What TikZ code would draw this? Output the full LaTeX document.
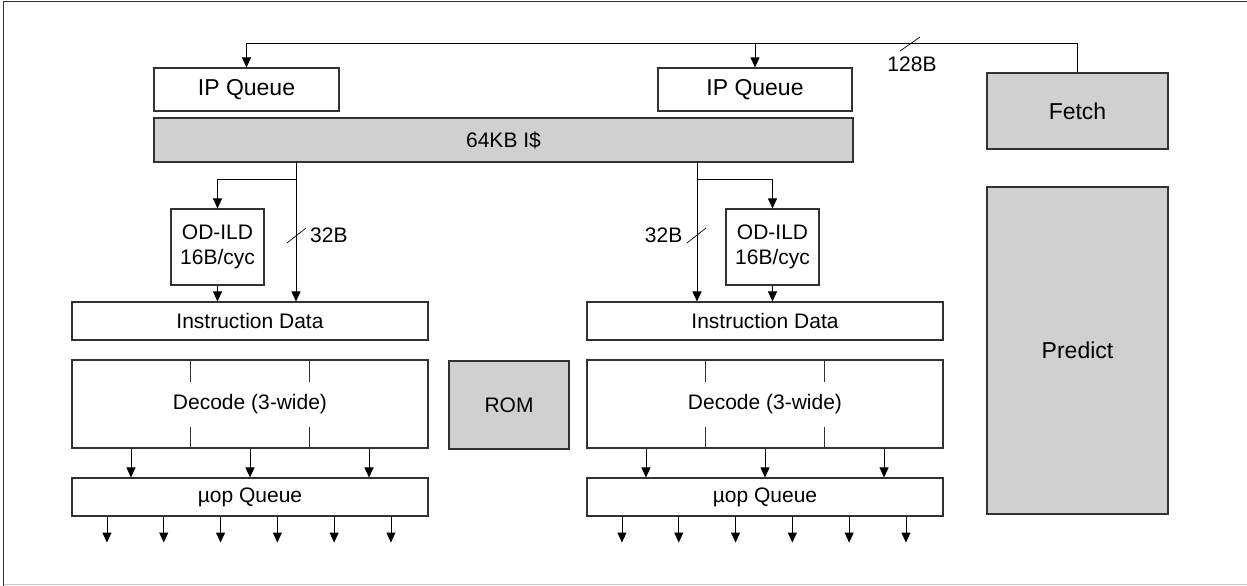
\documentclass[tikz,border=0pt]{standalone}
\usepackage{fontspec}
\setmainfont{Liberation Sans}
\usetikzlibrary{arrows.meta,calc}

\definecolor{blockgray}{RGB}{208,208,208}
\definecolor{edgegray}{RGB}{50,50,50}
\definecolor{framelight}{RGB}{200,200,200}

\tikzset{
  box/.style={draw=edgegray, line width=1.1pt, rectangle, inner sep=0pt,
              align=center, font=\fontsize{21}{25}\selectfont},
  whitebox/.style={box, fill=white},
  graybox/.style={box, fill=blockgray},
  bigtext/.style={font=\fontsize{23}{27}\selectfont},
  arr/.style={line width=0.9pt, -{Triangle[length=10pt,width=9pt]}},
  wire/.style={line width=0.9pt},
  tick/.style={line width=0.7pt},
  lbl/.style={font=\fontsize{21}{25}\selectfont, inner sep=0pt},
  divider/.style={line width=0.9pt, draw=edgegray},
}

\begin{document}
\begin{tikzpicture}[x=1pt, y=-1pt]
  \useasboundingbox (0,0) rectangle (1247,586);

  % frame
  \draw[line width=1.6pt, draw=edgegray] (3.5,586) -- (3.5,1.5) -- (1247,1.5);
  \draw[line width=1.2pt, draw=framelight] (3.5,584.5) -- (1247,584.5);

  % blocks
  \node[whitebox, bigtext, minimum width=185pt, minimum height=43pt] (ipq1) at (246.5,89.5) {IP Queue};
  \node[whitebox, bigtext, minimum width=194pt, minimum height=43pt] (ipq2) at (755,89.5) {IP Queue};
  \node[graybox, minimum width=699pt, minimum height=44pt] (icache) at (503.5,140) {64KB I\$};
  \node[graybox, bigtext, minimum width=181pt, minimum height=76pt] (fetch) at (1077.5,111) {Fetch};
  \node[graybox, bigtext, minimum width=181pt, minimum height=327pt] (predict) at (1077.5,350.5) {Predict};

  \node[whitebox, minimum width=93pt, minimum height=76pt] (ild1) at (217.5,247) {OD-ILD\\16B/cyc};
  \node[whitebox, minimum width=93pt, minimum height=76pt] (ild2) at (772.5,247) {OD-ILD\\16B/cyc};

  \node[whitebox, minimum width=356pt, minimum height=38pt] (idata1) at (250,321) {Instruction Data};
  \node[whitebox, minimum width=356pt, minimum height=38pt] (idata2) at (765,321) {Instruction Data};

  \node[whitebox, minimum width=356pt, minimum height=88pt] (dec1) at (250,404) {Decode (3-wide)};
  \node[whitebox, minimum width=356pt, minimum height=88pt] (dec2) at (765,404) {Decode (3-wide)};
  \node[graybox, minimum width=120pt, minimum height=88pt] (rom) at (509,405) {ROM};

  \node[whitebox, minimum width=356pt, minimum height=38pt] (uq1) at (250,497) {µop Queue};
  \node[whitebox, minimum width=356pt, minimum height=38pt] (uq2) at (765,497) {µop Queue};

  % fetch bus to the IP queues
  \coordinate (bus) at (0,43);
  \draw[arr] (fetch.north) -- (fetch.north |- bus) -| (ipq1.north);
  \draw[arr] (ipq2.north |- bus) -- (ipq2.north);
  \draw[tick] (900,51) -- (920,37);
  \node[lbl] (w128) at (912,64) {128B};

  % cache to left decoder
  \coordinate (l1) at (296,0);
  \coordinate (split) at (0,179);
  \draw[arr] (icache.south -| l1) -- (idata1.north -| l1);
  \draw[arr] (split -| l1) -| (ild1.north);
  \draw[arr] (ild1.south) -- (ild1.south |- idata1.north);
  \draw[tick] (287,243) -- (306,228);
  \node[lbl, anchor=west] (w32a) at (310,235) {32B};

  % cache to right decoder
  \coordinate (r1) at (697,0);
  \draw[arr] (icache.south -| r1) -- (idata2.north -| r1);
  \draw[arr] (split -| r1) -| (ild2.north);
  \draw[arr] (ild2.south) -- (ild2.south |- idata2.north);
  \draw[tick] (687,243) -- (706,228);
  \node[lbl, anchor=east] (w32b) at (682.5,235) {32B};

  % decode slot dividers and decode-to-queue arrows
  \foreach \d in {dec1,dec2}{
    \foreach \f in {1,2}{
      \draw[divider] ($(\d.north west)!\f/3!(\d.north east)$) -- ++(0,23);
      \draw[divider] ($(\d.south west)!\f/3!(\d.south east)$) -- ++(0,-22);
    }
  }
  \foreach \d/\q in {dec1/uq1,dec2/uq2}{
    \foreach \f in {1,3,5}{
      \coordinate (c) at ($(\d.south west)!\f/6!(\d.south east)$);
      \draw[arr] (c) -- (c |- \q.north);
    }
  }

  % queue outputs
  \foreach \q in {uq1,uq2}{
    \foreach \k in {0,...,5}{
      \coordinate (o) at ($(\q.south west)+(35.5+56.8*\k,0)$);
      \draw[arr] (o) -- ++(0,26);
    }
  }
\end{tikzpicture}
\end{document}
